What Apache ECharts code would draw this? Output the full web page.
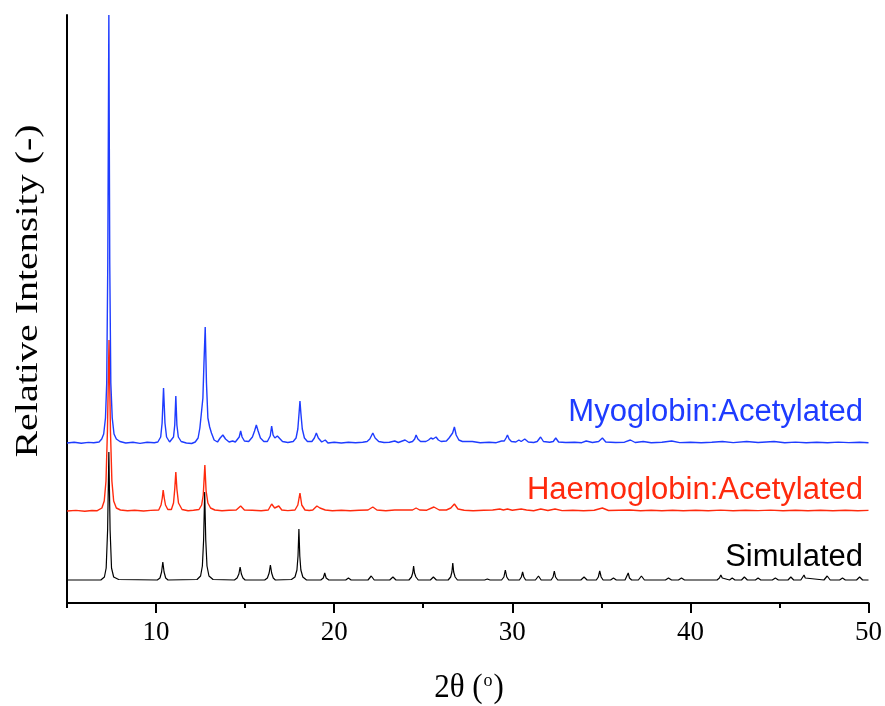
<!DOCTYPE html>
<html>
<head>
<meta charset="utf-8">
<script src="https://cdn.jsdelivr.net/npm/echarts@6/dist/echarts.min.js"></script>
<style>html,body{margin:0;padding:0;background:#fff}#chart{width:885px;height:706px}</style>
</head>
<body>
<div id="chart"></div>
<script>
// ---- Data (2θ in degrees, relative intensity above each trace's baseline) ----
const majorTicks = [10, 20, 30, 40, 50];
const minorTicks = [5, 15, 25, 35, 45];
const seriesNames = ['Simulated', 'Haemoglobin:Acetylated', 'Myoglobin:Acetylated'];
const seriesColors = ['#000000', '#ff2a0d', '#1e3cff'];
const baselineOffsets = [23, 92, 160];

const simulated = [
 [5,0],[6.9,0],[7.1,3],[7.2,12],[7.28,50],[7.35,128],[7.42,50],[7.5,12],[7.62,3],[7.9,0.5],
 [10.07,0],[10.22,2],[10.31,8],[10.38,18],[10.45,8],[10.54,2],[10.67,0],
 [12.3,0.5],[12.5,4],[12.6,14],[12.67,40],[12.73,88],[12.79,40],[12.86,14],[12.97,4],[13.2,0.5],
 [14.4,0],[14.55,2],[14.65,6],[14.72,13],[14.79,6],[14.88,2],[15.0,0],
 [16.1,0],[16.25,2],[16.35,7],[16.42,15],[16.49,7],[16.58,2],[16.7,0],
 [17.6,0.5],[17.8,3],[17.91,10],[17.97,24],[18.02,51],[18.07,24],[18.13,10],[18.24,3],[18.45,0],
 [19.25,0],[19.39,2],[19.47,7],[19.55,2],[19.7,0],
 [20.65,0],[20.8,2],[20.95,0],
 [21.9,0],[22.08,4],[22.25,0],
 [23.12,0],[23.3,3],[23.47,0],
 [24.2,0],[24.34,3],[24.41,7],[24.46,14],[24.51,7],[24.59,3],[24.72,0],
 [25.4,0],[25.57,3],[25.74,0],
 [26.4,0],[26.54,3],[26.61,8],[26.66,17],[26.71,8],[26.79,3],[26.92,0],
 [28.45,0],[28.6,1],[28.75,0],
 [29.4,0],[29.53,3],[29.61,10],[29.69,3],[29.8,0],
 [30.4,0],[30.51,3],[30.58,8],[30.65,3],[30.75,0],
 [31.3,0],[31.47,4],[31.62,0],
 [32.18,0],[32.29,3],[32.36,9],[32.43,3],[32.55,0],
 [33.85,0],[34.03,3],[34.2,0],
 [34.72,0],[34.83,3],[34.91,9],[34.99,3],[35.1,0],
 [35.52,0],[35.68,2],[35.84,0],
 [36.33,0],[36.44,2],[36.51,7],[36.58,2],[36.7,0],
 [37.08,0],[37.25,4],[37.42,0],
 [38.6,0],[38.77,2],[38.94,0],
 [39.33,0],[39.5,2],[39.67,0],
 [41.5,0],[41.63,2],[41.71,5],[41.79,2],[41.9,0],
 [42.2,0],[42.35,2],[42.5,0],
 [42.87,0],[43.03,3],[43.2,0],
 [43.65,0],[43.8,2],[43.95,0],
 [44.6,0],[44.77,2],[44.94,0],
 [45.48,0],[45.64,3],[45.8,0],
 [46.2,0],[46.31,2],[46.38,5],[46.45,2],[46.55,0],
 [47.5,0],[47.61,2],[47.68,4],[47.75,2],[47.85,0],
 [48.38,0],[48.54,2],[48.7,0],
 [49.33,0],[49.5,3],[49.67,0],[50,0]
];

const haemoglobin = [
 [5,0],[5.5,0.6],[6.0,-0.2],[6.4,0.5],[6.7,0.3],[6.96,3],[7.09,10],[7.19,30],[7.27,80],[7.36,171],[7.44,80],[7.52,30],[7.62,10],[7.77,3],[8.0,1],[8.4,0.2],[8.8,0.8],[9.3,0],[9.7,0.6],
 [10.15,1],[10.28,6],[10.35,13],[10.4,21],[10.46,13],[10.53,6],[10.66,1.5],
 [10.86,1.5],[10.98,8],[11.05,22],[11.11,39],[11.17,22],[11.26,8],[11.46,1.5],[11.8,0.3],[12.1,0.8],
 [12.41,1.5],[12.56,6],[12.65,16],[12.74,46],[12.81,20],[12.91,8],[13.06,3],[13.3,1],[13.7,0.3],[14.1,0.8],
 [14.5,1],[14.75,5],[14.96,1],[15.4,0.8],[15.9,0.3],
 [16.3,1],[16.49,7],[16.66,3],[16.89,5],[17.06,1],[17.4,0.4],
 [17.8,1],[17.96,6],[18.08,18],[18.18,6],[18.36,1],[18.6,0.5],
 [18.8,1],[19.03,5],[19.2,3],[19.5,1],[19.9,0.3],[20.4,0.8],[20.9,0.2],[21.4,0.7],
 [21.9,1],[22.17,4],[22.4,1],[22.9,0.3],[23.4,1],[24.0,1],
 [24.4,1],[24.6,3],[24.8,1],[25.2,0.8],[25.6,4],[25.9,1],[26.3,1],
 [26.55,3],[26.75,7],[26.95,2],[27.3,0.8],[27.8,0.3],[28.4,0.8],[28.9,1],[29.3,2],[29.5,1],[29.73,2],[30.0,0.8],
 [30.5,2],[30.8,1],[31.2,0.3],[31.6,2],[32.0,0.5],[32.4,2],[32.8,0.4],[33.4,0.8],[34.0,0.3],[34.6,0.8],
 [35.06,3],[35.4,0.5],[36.0,0.8],[36.6,1],[37.2,0.2],[37.8,0.8],[38.4,0.3],[39.0,0.7],[39.6,0.2],[40.3,0.8],
 [41.0,0.3],[41.7,0.9],[42.4,0.2],[43.1,0.8],[43.8,0.4],[44.5,0.9],[45.2,0.2],[45.9,0.8],[46.6,0.3],[47.3,0.8],
 [48.0,0.2],[48.7,0.8],[49.4,0.3],[50,0.6]
];

const myoglobin = [
 [5,0],[5.4,0.8],[5.8,-0.3],[6.2,0.6],[6.5,0.2],[6.8,1],[6.95,4],[7.06,9],[7.16,25],[7.23,60],[7.29,180],[7.35,428],[7.4,180],[7.46,60],[7.54,25],[7.64,9],[7.77,4],[7.97,1.5],[8.3,0],[8.7,0.7],[9.1,-0.4],[9.5,0.8],[9.9,0.3],
 [10.1,1],[10.26,6],[10.34,20],[10.42,55],[10.5,20],[10.59,6],[10.76,1],
 [10.86,1.5],[10.98,6],[11.05,18],[11.11,47],[11.17,18],[11.25,6],[11.41,1.5],[11.7,0],[12.0,-0.5],
 [12.2,1],[12.36,5],[12.46,15],[12.54,29],[12.63,45],[12.69,80],[12.76,116],[12.83,60],[12.91,25],[13.01,16],[13.11,10],[13.26,3],[13.45,1],
 [13.6,5],[13.75,8],[13.9,4],[14.1,1],[14.3,2],[14.45,1],
 [14.56,1.5],[14.67,6],[14.75,12],[14.83,6],[14.96,2],
 [15.2,1.5],[15.41,6],[15.53,12],[15.63,18],[15.73,12],[15.86,5],[16.05,1.5],
 [16.25,1.5],[16.41,7],[16.49,17],[16.57,8],[16.67,5],[16.81,7],[16.91,5],[17.1,1.5],[17.4,0.5],
 [17.7,1.5],[17.86,5],[17.96,14],[18.03,30],[18.08,42],[18.13,30],[18.21,14],[18.33,5],[18.5,1.5],
 [18.75,1.5],[18.89,5],[19.0,10],[19.11,5],[19.3,1],[19.5,3],[19.65,0],
 [20.0,0.8],[20.4,0],[20.8,0.7],[21.2,0.2],[21.6,0.8],
 [21.85,1.5],[22.0,4],[22.17,10],[22.3,5],[22.5,1.5],[22.8,0.5],[23.1,0.8],
 [23.4,2],[23.6,0.5],[23.98,3],[24.2,0.5],
 [24.4,1.5],[24.52,4],[24.6,8],[24.7,4],[24.85,1.5],
 [25.15,1.5],[25.3,3],[25.43,5],[25.55,4],[25.72,6],[25.85,3],[26.0,1.5],
 [26.3,2],[26.45,5],[26.55,7],[26.65,10],[26.75,16],[26.85,8],[27.0,3],[27.2,1.5],
 [27.76,1.5],[28.2,0.3],[28.7,0.8],[29.1,0.3],[29.4,2],[29.55,2],[29.65,5],[29.73,8],[29.82,4],[29.95,1.5],
 [30.2,1],[30.37,3],[30.5,1.5],[30.7,4],[30.9,1],[31.2,0.5],
 [31.4,1.5],[31.59,6],[31.75,1.5],[32.1,0.7],
 [32.3,1.5],[32.44,5],[32.6,1],[33.0,0.5],[33.5,0.8],[33.9,0.3],[34.15,2],[34.5,0.5],
 [34.85,1.5],[35.06,5],[35.25,1],[35.8,0.5],[36.3,0.8],[36.63,3],[36.9,0.5],[37.35,1.5],[37.8,0.3],[38.4,0.8],
 [38.95,2],[39.4,0.4],[40.0,0.8],[40.6,0.2],[41.2,0.7],[41.8,1.5],[42.4,0.4],[43.16,1.5],[43.8,0.5],[44.7,1.5],
 [45.3,0.3],[45.9,0.9],[46.5,0.3],[47.1,0.8],[47.7,0.2],[48.3,0.9],[48.9,0.4],[49.5,0.8],[50,0.3]
];

const traces = [simulated, haemoglobin, myoglobin];

// ---- Chart ----
const chart = echarts.init(document.getElementById('chart'), null, {renderer: 'canvas'});
const serif = '"Liberation Serif", "Times New Roman", serif';
const sans = '"Liberation Sans", Arial, sans-serif';

const series = traces.map((pts, i) => ({
  name: seriesNames[i],
  type: 'line',
  xAxisIndex: 0,
  yAxisIndex: 0,
  showSymbol: false,
  symbol: 'none',
  smooth: false,
  lineStyle: {color: seriesColors[i], width: i === 0 ? 1.2 : 1.4},
  itemStyle: {color: seriesColors[i]},
  data: pts.map(p => [p[0], p[1] + baselineOffsets[i]]),
  z: 2 + i
}));

const option = {
  animation: false,
  backgroundColor: '#ffffff',
  grid: {left: 67, right: 16.5, top: 15, bottom: 103, containLabel: false},
  xAxis: [
    {
      type: 'value', min: 5, max: 50, position: 'bottom',
      axisLine: {show: true, onZero: false, lineStyle: {color: '#000', width: 2}},
      axisTick: {show: true, inside: false, length: 10, customValues: majorTicks, lineStyle: {color: '#000', width: 2}},
      axisLabel: {show: true, customValues: majorTicks, margin: 16, color: '#000', fontFamily: serif, fontSize: 27},
      splitLine: {show: false}
    },
    {
      type: 'value', min: 5, max: 50, position: 'bottom',
      axisLine: {show: false, onZero: false},
      axisTick: {show: true, inside: false, length: 5, customValues: minorTicks, lineStyle: {color: '#000', width: 2}},
      axisLabel: {show: false},
      splitLine: {show: false}
    }
  ],
  yAxis: {
    type: 'value', min: 0, max: 588,
    axisLine: {show: true, onZero: false, lineStyle: {color: '#000', width: 2}},
    axisTick: {show: false},
    axisLabel: {show: false},
    splitLine: {show: false}
  },
  graphic: [
    {type: 'text', x: 29, y: 291, rotation: Math.PI / 2, scaleX: 1.25,
     style: {text: 'Relative Intensity (-)', font: '32px ' + serif, fill: '#000', textAlign: 'center', textVerticalAlign: 'middle'}},
    {type: 'text', x: 469, y: 688, scaleY: 1.1,
     style: {text: '2θ ({sup|o})', fill: '#000', textAlign: 'center', textVerticalAlign: 'middle',
             font: '31px ' + serif,
             rich: {sup: {fontSize: 18, fontFamily: serif, verticalAlign: 'top', padding: [0, 1, 14, 1]}}}},
    {type: 'text', x: 863, y: 412,
     style: {text: seriesNames[2], font: '31px ' + sans, fill: seriesColors[2], textAlign: 'right', textVerticalAlign: 'middle'}},
    {type: 'text', x: 863, y: 490,
     style: {text: seriesNames[1], font: '31px ' + sans, fill: seriesColors[1], textAlign: 'right', textVerticalAlign: 'middle'}},
    {type: 'text', x: 863, y: 557,
     style: {text: seriesNames[0], font: '31px ' + sans, fill: seriesColors[0], textAlign: 'right', textVerticalAlign: 'middle'}}
  ],
  series: series
};
chart.setOption(option);
</script>
</body>
</html>
